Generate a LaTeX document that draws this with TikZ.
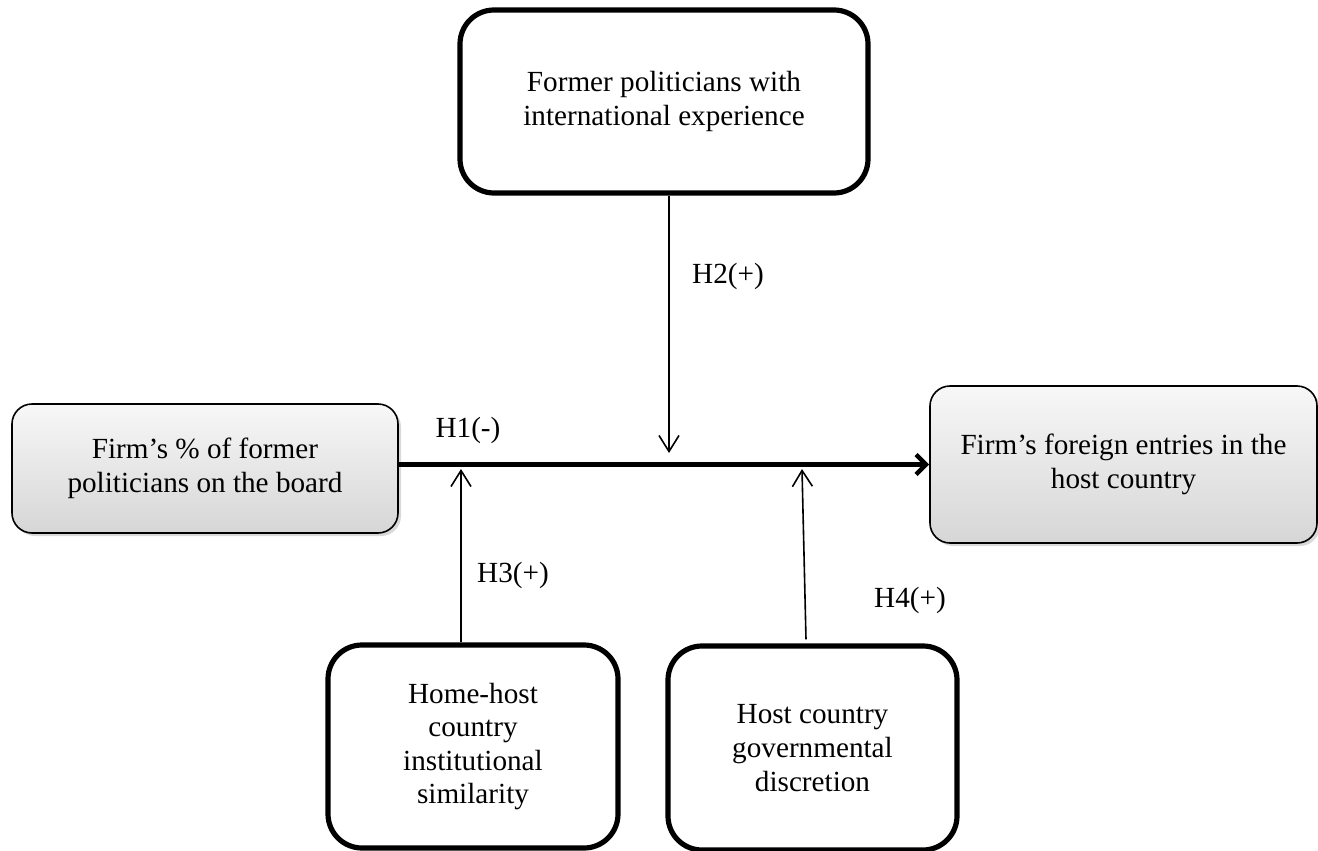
\documentclass[tikz,border=0pt]{standalone}
\usepackage{fontspec}
\setmainfont{Liberation Serif}
\usetikzlibrary{arrows.meta,shadows,calc}
\begin{document}
\begin{tikzpicture}[x=0.5pt,y=-0.5pt,
  every node/.style={font=\fontsize{14.6}{16.8}\selectfont},
  graybox/.style={draw, line width=0.8pt, rounded corners=10pt, top color=gray!6, bottom color=gray!32, align=center,
    drop shadow={shadow xshift=1.5pt,shadow yshift=-1.5pt,opacity=0.3}},
  thickbox/.style={draw, line width=2.6pt, rounded corners=17pt, fill=white, align=center},
  thinarrow/.style={line width=0.8pt,-{Straight Barb[length=8pt,width=10pt]}},
  mainarrow/.style={line width=2.2pt,-{Straight Barb[length=5pt,width=10pt]}},
  lbl/.style={anchor=base, inner sep=0pt}
]
\useasboundingbox (0,0) rectangle (1318,851);

\node[graybox, minimum width=193pt, minimum height=64.5pt] (src) at (205,468.5)
  {Firm’s \% of former\\politicians on the board};
\node[graybox, minimum width=193.5pt, minimum height=78.5pt] (dst) at (1123.5,464.5)
  {Firm’s foreign entries in the\\host country};
\node[thickbox, minimum width=204pt, minimum height=91.5pt] (intl) at (664,101.5)
  {Former politicians with\\international experience};
\node[thickbox, minimum width=145pt, minimum height=101.5pt] (inst) at (473,746.5)
  {Home-host\\country\\institutional\\similarity};
\node[thickbox, minimum width=144.5pt, minimum height=102pt] (disc) at (812.5,748)
  {Host country\\governmental\\discretion};

\draw[mainarrow] (src.east |- dst.west) -- (dst.west);

\coordinate (p2) at (669,453);
\coordinate (p3) at (461,469);
\coordinate (p4) at (802,469);
\draw[thinarrow] (intl.south -| p2) -- (p2);
\draw[thinarrow] (inst.north -| p3) -- (p3);
\draw[thinarrow] ($(disc.north -| p4)+(4,-4)$) -- (p4);

\node[lbl] (h1) at (468,437) {H1(-)};
\node[lbl] (h2) at (728,283) {H2(+)};
\node[lbl] (h3) at (513,582) {H3(+)};
\node[lbl] (h4) at (910,607) {H4(+)};
\end{tikzpicture}
\end{document}
